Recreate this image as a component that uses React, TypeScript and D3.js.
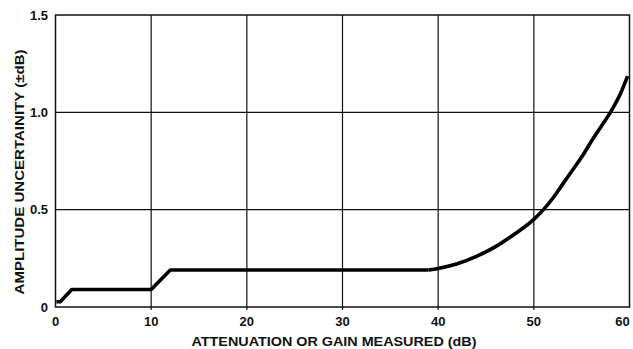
import React from "react";
import * as d3 from "d3";

const xTicks = [0, 10, 20, 30, 40, 50, 60];
const yTicks = [0, 0.5, 1.0, 1.5];
const yTickLabels = ["0", "0.5", "1.0", "1.5"];
const curveX = [0.1, 0.5, 1.7, 10, 12, 39, 40, 42, 44, 46, 48, 50, 51, 52, 53, 54, 55, 56, 57, 58, 59, 59.8];
const curveY = [0.027, 0.027, 0.09, 0.09, 0.19, 0.19, 0.198, 0.222, 0.26, 0.31, 0.375, 0.45, 0.5, 0.56, 0.63, 0.7, 0.77, 0.85, 0.925, 1.0, 1.09, 1.186];

const W = 633;
const H = 349;
const left = 55.5;
const right = 629.5;
const top = 15;
const bottom = 307;

export default function App() {
  const x = d3.scaleLinear().domain([0, 60]).range([left, right]);
  const y = d3.scaleLinear().domain([0, 1.5]).range([bottom, top]);
  const pts: [number, number][] = curveX.map((v, i) => [v, curveY[i]]);
  const linear = d3
    .line<[number, number]>()
    .x((d) => x(d[0]))
    .y((d) => y(d[1]));
  const smooth = d3
    .line<[number, number]>()
    .x((d) => x(d[0]))
    .y((d) => y(d[1]))
    .curve(d3.curveMonotoneX);
  const font = "'Liberation Sans', Arial, Helvetica, sans-serif";
  return (
    <svg
      width={W}
      height={H}
      style={{ position: "absolute", left: 0, top: 0, background: "#fff" }}
      fontFamily={font}
    >
      <rect x={0} y={0} width={W} height={H} fill="#fff" />
      {xTicks.slice(1, -1).map((t) => (
        <line key={"vx" + t} x1={x(t)} x2={x(t)} y1={top} y2={bottom + 3} stroke="#111" strokeWidth={1.2} />
      ))}
      {yTicks.slice(1, -1).map((t) => (
        <line key={"hy" + t} x1={left} x2={right} y1={y(t)} y2={y(t)} stroke="#111" strokeWidth={1.2} />
      ))}
      <rect x={left} y={top} width={right - left} height={bottom - top} fill="none" stroke="#111" strokeWidth={1.5} />
      <path d={linear(pts.slice(0, 6)) || ""} fill="none" stroke="#000" strokeWidth={3.6} strokeLinejoin="round" />
      <path d={smooth(pts.slice(5)) || ""} fill="none" stroke="#000" strokeWidth={3.6} strokeLinejoin="round" />
      {xTicks.map((t, i) => (
        <text
          key={"xt" + t}
          x={i === xTicks.length - 1 ? x(t) - 7 : x(t)}
          y={326}
          textAnchor="middle"
          fontSize={13}
          fontWeight="bold"
          fill="#111"
        >
          {t}
        </text>
      ))}
      {yTicks.map((t, i) => (
        <text key={"yt" + t} x={48} y={y(t) + 4.5} textAnchor="end" fontSize={13} fontWeight="bold" fill="#111">
          {yTickLabels[i]}
        </text>
      ))}
      <text x={334} y={346} textAnchor="middle" fontSize={12.5} fontWeight="bold" fill="#111" textLength={285} lengthAdjust="spacingAndGlyphs">
        ATTENUATION OR GAIN MEASURED (dB)
      </text>
      <text
        transform={`translate(23.5, 172) rotate(-90)`}
        textAnchor="middle"
        fontSize={12}
        fontWeight="bold"
        fill="#111"
        textLength={245}
        lengthAdjust="spacingAndGlyphs"
      >
        AMPLITUDE UNCERTAINITY (±dB)
      </text>
    </svg>
  );
}
